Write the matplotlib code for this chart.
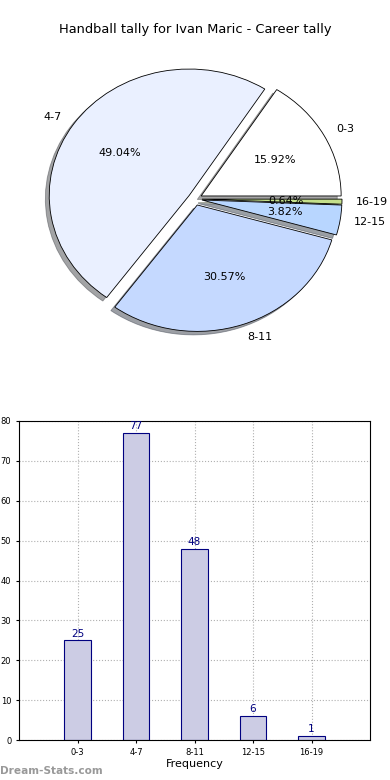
import matplotlib
matplotlib.use("Agg")
import matplotlib.pyplot as plt

categories = ["0-3", "4-7", "8-11", "12-15", "16-19"]
values = [25, 77, 48, 6, 1]
pie_colors = ["#ffffff", "#eaf0ff", "#c5d9ff", "#b8d6ff", "#c4df8a"]
title = "Handball tally for Ivan Maric - Career tally"
yticks = [0, 10, 20, 30, 40, 50, 60, 70, 80]

fig = plt.figure(figsize=(3.9, 7.8), dpi=100)

# Pie
axp = fig.add_axes([20/390, (780-357)/780, 350/390, 316/780])
wedges, texts, autotexts = axp.pie(
    values, labels=categories, colors=pie_colors, autopct="%.2f%%",
    explode=[0.05]*len(values), shadow=True, startangle=0,
    wedgeprops=dict(edgecolor="black", linewidth=0.6),
    textprops=dict(fontsize=8), pctdistance=0.6, labeldistance=1.1)
axp.set_aspect("auto")
axp.set_xlim(-1.25, 1.25)
axp.set_ylim(-1.25, 1.25)
axp.axis("off")

fig.text(0.5, 1-30/780, title, ha="center", va="center", fontsize=9.35)

# Bars
axb = fig.add_axes([19/390, 40/780, 351/390, 319/780])
x = list(range(len(categories)))
bars = axb.bar(x, values, width=0.45, color="#cccce4", edgecolor="#000080", linewidth=0.8, zorder=2)
for xi, v in zip(x, values):
    axb.text(xi, v + 0.4, str(v), ha="center", va="bottom", color="#000080", fontsize=7.5)
axb.set_xlim(-1, 5)
axb.set_ylim(0, 80)
axb.set_xticks(x)
axb.set_xticklabels(categories)
axb.set_yticks(yticks)
axb.tick_params(labelsize=6, length=2)
axb.grid(True, linestyle=":", color="#b0b0b0", linewidth=0.8, zorder=0)
axb.set_axisbelow(True)
axb.set_xlabel("Frequency", fontsize=8, labelpad=2)

fig.text(0.0, 9/780, "Dream-Stats.com", ha="left", va="center", fontsize=7.6,
         color="#999999", fontweight="bold")

fig.savefig("out.png", dpi=100)
